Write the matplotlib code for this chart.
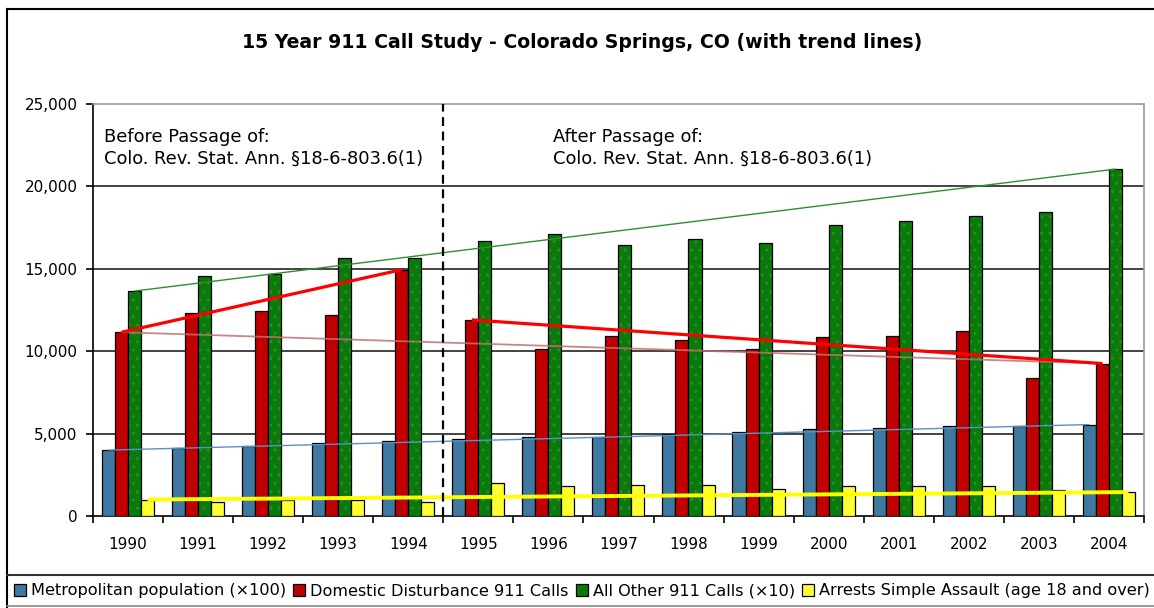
import numpy as np
import matplotlib.pyplot as plt
from matplotlib.patches import Patch
from matplotlib.lines import Line2D

# values
years = [str(y) for y in range(1990, 2005)]
population = [4000, 4150, 4250, 4450, 4550, 4700, 4800, 4800, 4950, 5100, 5250, 5350, 5450, 5450, 5550]
domestic = [11150, 12300, 12450, 12200, 14950, 11900, 10150, 10950, 10650, 10150, 10850, 10950, 11250, 8400, 9250]
other = [13650, 14550, 14700, 15650, 15650, 16700, 17100, 16450, 16800, 16550, 17650, 17900, 18200, 18450, 21050]
arrests = [1000, 850, 950, 1000, 850, 2000, 1800, 1900, 1900, 1650, 1800, 1800, 1800, 1550, 1450]
labels = ["Metropolitan population (×100)", "Domestic Disturbance 911 Calls",
          "All Other 911 Calls (×10)", "Arrests Simple Assault (age 18 and over)"]
yticks = [0, 5000, 10000, 15000, 20000, 25000]

colors = ["#3f78a0", "#c00000", "#0a7a0a", "#ffff33"]
series = [population, domestic, other, arrests]

fig = plt.figure(figsize=(11.54, 6.08), dpi=100)
ax = fig.add_axes([93/1154, 1-516/608, (1144-93)/1154, (516-104)/608])

x = np.arange(len(years))
w = 0.186
offs = [-0.28, -0.094, 0.092, 0.278]

for i, (vals, c) in enumerate(zip(series, colors)):
    if i == 2:
        # dotted pattern fill like the original
        ax.bar(x + offs[i], vals, w, color=c, edgecolor="#2c8c2c", hatch="..", lw=0, zorder=3)
        ax.bar(x + offs[i], vals, w, color="none", edgecolor="black", lw=0.9, zorder=3)
    else:
        ax.bar(x + offs[i], vals, w, color=c, edgecolor="black", lw=0.9, zorder=3)

# trend lines (first point to last point of each span)
def trend(i, a, b, **kw):
    vals = series[i]
    ax.plot([a + offs[i], b + offs[i]], [vals[a], vals[b]], zorder=5, solid_capstyle="butt", **kw)

trend(0, 0, 14, color="#5a90c4", lw=1.0)
trend(1, 0, 14, color="#c47070", lw=1.3, alpha=0.85)
trend(1, 0, 4, color="#ff0000", lw=2.3)
trend(1, 5, 14, color="#ff0000", lw=2.3)
trend(2, 0, 14, color="#2a922a", lw=1.0)
trend(3, 0, 14, color="#ffff00", lw=2.8)

ax.axvline(4.5, color="black", ls=(0, (4, 2.5)), lw=1.6, zorder=6)

ax.set_xlim(-0.5, 14.5)
ax.set_ylim(0, 25000)
ax.set_yticks(yticks)
ax.set_yticklabels([f"{v:,}" for v in yticks], fontsize=11)
for v in yticks[1:-1]:
    ax.axhline(v, color="#222222", lw=1.2, zorder=1)

ax.set_xticks(x)
ax.set_xticklabels(years, fontsize=11)
ax.set_xticks(np.arange(-0.5, 15, 1), minor=True)
ax.tick_params(axis="x", which="major", length=0, pad=15)
ax.tick_params(axis="x", which="minor", length=5, width=1.2, direction="out")
ax.tick_params(axis="y", length=5, width=1.2, direction="out", pad=6)

for s in ["top", "right"]:
    ax.spines[s].set_color("#999999")
    ax.spines[s].set_linestyle((0, (1, 1)))
    ax.spines[s].set_linewidth(1.2)
ax.spines["left"].set_linewidth(1.2)
ax.spines["bottom"].set_linewidth(1.2)

ax.text(-0.34, 22350, "Before Passage of:\nColo. Rev. Stat. Ann. §18-6-803.6(1)",
        fontsize=12.9, va="center", ha="left", linespacing=1.3)
ax.text(6.06, 22350, "After Passage of:\nColo. Rev. Stat. Ann. §18-6-803.6(1)",
        fontsize=12.9, va="center", ha="left", linespacing=1.3)

fig.text(582/1154, 1-43/608, "15 Year 911 Call Study - Colorado Springs, CO (with trend lines)",
         ha="center", va="center", fontsize=13.6, fontweight="bold")

# outer frame and legend box
fig.add_artist(Line2D([7/1154, 7/1154], [0, 1-9/608], color="black", lw=1.5))
fig.add_artist(Line2D([7/1154, 1], [1-9/608, 1-9/608], color="black", lw=1.5))
fig.add_artist(Line2D([7/1154, 1], [1-575/608, 1-575/608], color="#333333", lw=1.5))
fig.add_artist(Line2D([7/1154, 1], [1-606/608, 1-606/608], color="#888888", lw=1.2))

handles = [Patch(facecolor=c, edgecolor="black", lw=0.9) for c in colors]
fig.legend(handles, labels, loc="center", bbox_to_anchor=(582/1154, 1-591/608), ncol=4,
           frameon=False, fontsize=11.6, handlelength=0.75, handleheight=0.75,
           handletextpad=0.3, columnspacing=0.45, borderpad=0)

fig.savefig("out.png", dpi=100)
